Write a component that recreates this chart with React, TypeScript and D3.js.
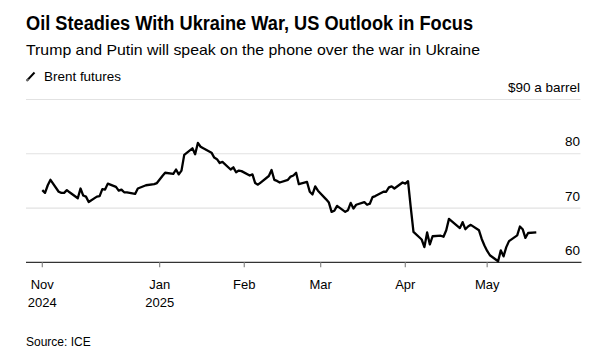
import React from "react";
import * as d3 from "d3";

const dates: string[] = [
  "2024-11-19","2024-11-20","2024-11-21","2024-11-22","2024-11-25","2024-11-26","2024-11-27","2024-11-28","2024-11-29",
  "2024-12-02","2024-12-03","2024-12-04","2024-12-05","2024-12-06","2024-12-09","2024-12-10","2024-12-11","2024-12-12","2024-12-13",
  "2024-12-16","2024-12-17","2024-12-18","2024-12-19","2024-12-20","2024-12-23","2024-12-24","2024-12-27","2024-12-30","2024-12-31",
  "2025-01-02","2025-01-03","2025-01-06","2025-01-07","2025-01-08","2025-01-09","2025-01-10","2025-01-13","2025-01-14","2025-01-15",
  "2025-01-16","2025-01-17","2025-01-20","2025-01-21","2025-01-22","2025-01-23","2025-01-24","2025-01-27","2025-01-28","2025-01-29",
  "2025-01-30","2025-01-31","2025-02-03","2025-02-04","2025-02-05","2025-02-06","2025-02-07","2025-02-10","2025-02-11","2025-02-12",
  "2025-02-13","2025-02-14","2025-02-17","2025-02-18","2025-02-19","2025-02-20","2025-02-21","2025-02-24","2025-02-25","2025-02-26",
  "2025-02-27","2025-02-28","2025-03-03","2025-03-04","2025-03-05","2025-03-06","2025-03-07","2025-03-10","2025-03-11","2025-03-12",
  "2025-03-13","2025-03-14","2025-03-17","2025-03-18","2025-03-19","2025-03-20","2025-03-21","2025-03-24","2025-03-25","2025-03-26",
  "2025-03-27","2025-03-28","2025-03-31","2025-04-01","2025-04-02","2025-04-03","2025-04-04","2025-04-07","2025-04-08","2025-04-09",
  "2025-04-10","2025-04-11","2025-04-14","2025-04-15","2025-04-16","2025-04-17","2025-04-21","2025-04-22","2025-04-23","2025-04-24",
  "2025-04-25","2025-04-28","2025-04-29","2025-04-30","2025-05-01","2025-05-02","2025-05-05","2025-05-06","2025-05-07","2025-05-08",
  "2025-05-09","2025-05-12","2025-05-13","2025-05-14","2025-05-15","2025-05-16","2025-05-19"
];

const brent: number[] = [
  73.3,72.8,74.2,75.2,73.0,72.8,72.8,73.3,72.9,
  71.8,73.6,72.3,72.1,71.1,72.1,72.2,73.5,73.4,74.5,
  73.9,73.2,73.4,72.9,72.9,72.6,73.6,74.2,74.4,74.6,
  75.9,76.5,76.3,77.1,76.2,76.9,79.8,81.0,79.9,82.0,
  81.3,81.0,80.2,79.3,79.0,78.3,78.5,77.1,77.5,76.6,
  76.9,76.8,76.0,76.2,74.6,74.3,74.7,75.9,77.0,75.2,
  75.0,74.7,75.2,75.8,76.0,76.5,74.4,74.8,73.0,72.5,
  74.0,73.2,71.6,71.0,69.3,69.5,70.4,69.3,69.6,70.95,
  69.9,70.6,71.1,70.6,70.8,72.0,72.2,73.0,73.0,73.8,
  74.0,73.6,74.7,74.5,74.95,70.1,65.6,64.2,62.8,65.5,
  63.3,64.8,64.9,64.7,65.9,68.0,66.3,67.4,66.1,66.6,
  66.9,65.9,64.3,63.1,62.1,61.3,60.2,62.2,61.1,62.8,
  63.9,64.96,66.6,66.1,64.5,65.4,65.5
];

const yTicks: number[] = [60, 70, 80, 90];
const xTickDates: string[] = ["2024-11-19", "2025-01-01", "2025-02-01", "2025-03-01", "2025-04-01", "2025-05-01"];
const xTickMonths: string[] = ["Nov", "Jan", "Feb", "Mar", "Apr", "May"];
const xTickYears: string[] = ["2024", "2025", "", "", "", ""];

const W = 598;
const H = 357;
const FONT = "'Liberation Sans', Arial, Helvetica, sans-serif";

export default function App() {
  const parse = d3.utcParse("%Y-%m-%d");
  const data = dates.map((d, i) => ({ date: parse(d) as Date, value: brent[i] }));

  const x = d3
    .scaleUtc()
    .domain([parse("2024-11-19") as Date, parse("2025-05-19") as Date])
    .range([42.3, 536.3]);
  const y = d3.scaleLinear().domain([60, 90]).range([262.3, 99.5]);

  const line = d3
    .line<{ date: Date; value: number }>()
    .x((d) => x(d.date))
    .y((d) => y(d.value))
    .curve(d3.curveLinear);

  const left = 26;
  const right = 580.5;

  return (
    <svg
      width={W}
      height={H}
      style={{ position: "absolute", left: 0, top: 0, background: "#fff" }}
      fontFamily={FONT}
    >
      <text x={26} y={30} fontSize={19.5} fontWeight="bold" fill="#000" textLength={447} lengthAdjust="spacingAndGlyphs">
        Oil Steadies With Ukraine War, US Outlook in Focus
      </text>
      <text x={26} y={54.5} fontSize={14.5} fill="#000" textLength={454} lengthAdjust="spacingAndGlyphs">
        Trump and Putin will speak on the phone over the war in Ukraine
      </text>
      <line x1={27} y1={80.5} x2={34.5} y2={72.5} stroke="#000" strokeWidth={2} />
      <line x1={26.5} y1={81} x2={28.5} y2={79} stroke="#666" strokeWidth={2} />
      <text x={44} y={81} fontSize={13} fill="#000" textLength={77} lengthAdjust="spacingAndGlyphs">
        Brent futures
      </text>

      {yTicks.map((t) => (
        <g key={t}>
          {t !== 60 && (
            <line x1={left} x2={right} y1={y(t)} y2={y(t)} stroke="#e2e2e2" strokeWidth={1.2} />
          )}
          <text x={580} y={y(t) - 7.5} fontSize={13.5} textAnchor="end" fill="#000">
            {t === 90 ? "$90 a barrel" : String(t)}
          </text>
        </g>
      ))}

      <line x1={left} x2={581.5} y1={y(60)} y2={y(60)} stroke="#333" strokeWidth={1.3} />
      {xTickDates.map((d, i) => {
        const xx = x(parse(d) as Date);
        return (
          <g key={d}>
            <line x1={xx} x2={xx} y1={y(60)} y2={y(60) + 5} stroke="#888" strokeWidth={1.2} />
            <text x={xx} y={288.5} fontSize={13} textAnchor="middle" fill="#000">
              {xTickMonths[i]}
            </text>
            {xTickYears[i] && (
              <text x={xx} y={306.5} fontSize={13} textAnchor="middle" fill="#000">
                {xTickYears[i]}
              </text>
            )}
          </g>
        );
      })}

      <path d={line(data) || ""} fill="none" stroke="#000" strokeWidth={2.3} strokeLinejoin="round" />

      <text x={26} y={346} fontSize={12} fill="#000">
        Source: ICE
      </text>
    </svg>
  );
}
